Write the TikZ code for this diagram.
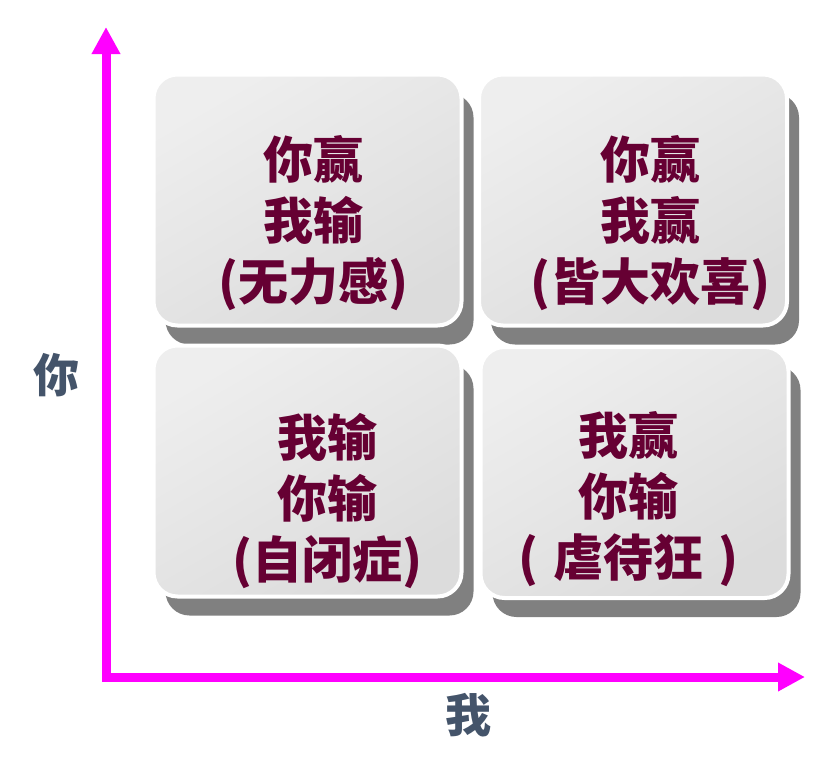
\documentclass[tikz,border=0pt]{standalone}
\usepackage{fontspec}
\newfontfamily\cjk{Noto Sans CJK SC}
\usetikzlibrary{arrows.meta,shadows}
\definecolor{txtred}{HTML}{660033}
\definecolor{axislbl}{HTML}{44546A}
\definecolor{magent}{HTML}{FF00FF}
\definecolor{shadowgray}{HTML}{808080}
\definecolor{boxlight}{HTML}{EEEEEE}
\definecolor{boxdark}{HTML}{DCDCDC}
\tikzset{
  quad/.style={draw=white, line width=4pt, rounded corners=24pt,
    top color=boxlight, bottom color=boxdark, shading angle=30,
    minimum width=308pt, minimum height=251pt, inner sep=0pt,
    drop shadow={shadow xshift=12pt, shadow yshift=-19pt, fill=shadowgray, opacity=1}},
  quadtext/.style={text=txtred, align=center, inner sep=0pt,
    font=\cjk\bfseries\fontsize{50}{61}\selectfont},
  axisline/.style={draw=magent, line width=9pt, line join=miter,
    {Triangle[width=27pt,length=27pt]}-{Triangle[width=27pt,length=27pt]}},
  axislabel/.style={text=axislbl, inner sep=0pt, font=\cjk\bfseries\fontsize{46}{50}\selectfont}
}
\begin{document}
\begin{tikzpicture}[x=1pt,y=-1pt]
\useasboundingbox (0,0) rectangle (831,772);
\fill[white] (0,0) rectangle (831,772);
% axes
\coordinate (ytip) at (106,27);
\coordinate (orig) at (106,677);
\coordinate (xtip) at (805,677);
\draw[axisline] (ytip) -- (orig) -- (xtip);
\node[axislabel] (you) at (56,375) {你};
\node[axislabel] (me) at (468,715) {我};
% boxes
\node[quad] (tl) at (307.5,200) {};
\node[quad] (tr) at (633,200) {};
\node[quad] (bl) at (307.5,471) {};
\node[quad] (br) at (634.5,472.5) {};
% texts
\node[quadtext] (tlt) at (313,223) {你赢\\我输\\(无力感)};
\node[quadtext] (trt) at (650,223) {你赢\\我赢\\(皆大欢喜)};
\node[quadtext] (blt) at (327,501) {我输\\你输\\(自闭症)};
\node[quadtext] (brt) at (628,499) {我赢\\你输\\(\hspace{0.3em}虐待狂\hspace{0.3em})};
\end{tikzpicture}
\end{document}
